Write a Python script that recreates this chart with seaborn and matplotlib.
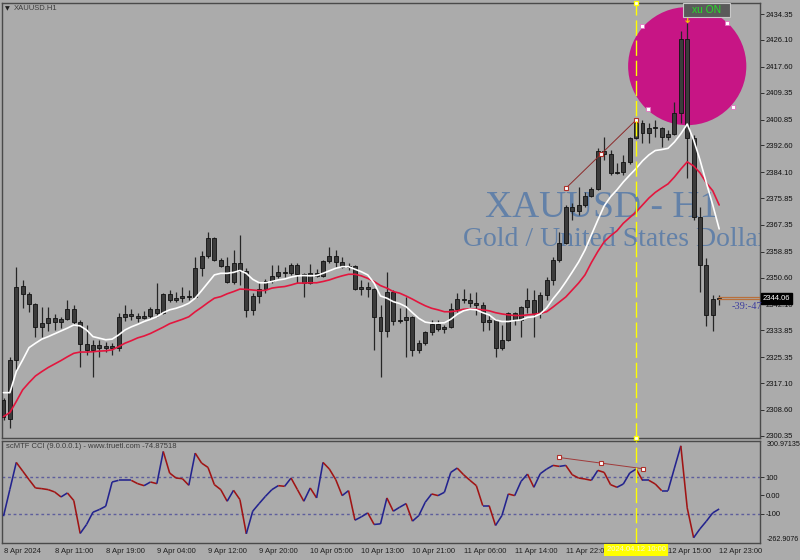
import matplotlib
matplotlib.use("Agg")
import matplotlib.pyplot as plt
import numpy as np
import seaborn as sns
from matplotlib.collections import LineCollection
from matplotlib.patches import Ellipse, Rectangle
from matplotlib.transforms import blended_transform_factory

W, H = 800, 560
BG = "#ababab"

# XAUUSD H1, 8-12 Apr 2024
opens = [2311.8, 2305.8, 2324.5, 2348.0, 2345.5, 2342.3, 2335.0, 2336.2, 2337.8, 2336.6,
         2337.5, 2340.7, 2336.6, 2329.6, 2327.7, 2329.3, 2328.4, 2329.0, 2328.4, 2338.2,
         2339.1, 2338.5, 2337.8, 2338.5, 2340.7, 2339.4, 2345.5, 2343.5, 2344.2, 2344.8,
         2344.5, 2353.7, 2357.5, 2363.2, 2356.3, 2354.3, 2349.3, 2355.3, 2352.8, 2340.4,
         2344.8, 2347.0, 2349.6, 2351.2, 2352.4, 2352.0, 2354.7, 2351.8, 2348.9, 2352.1,
         2351.2, 2355.9, 2357.5, 2355.6, 2354.0, 2354.3, 2347.0, 2347.7, 2347.0, 2338.2,
         2333.7, 2346.1, 2336.9, 2337.2, 2338.2, 2327.7, 2329.9, 2333.5, 2335.9, 2334.3,
         2335.0, 2340.7, 2343.9, 2343.5, 2342.6, 2341.9, 2336.6, 2337.2, 2328.4, 2330.9,
         2339.4, 2337.2, 2341.3, 2343.5, 2339.4, 2345.1, 2349.9, 2356.3, 2361.7, 2373.1,
         2371.8, 2373.7, 2376.6, 2378.8, 2390.9, 2389.9, 2383.9, 2384.3, 2387.4, 2395.0,
         2399.7, 2396.6, 2398.2, 2398.0, 2395.3, 2396.3, 2402.9, 2426.4, 2395.0, 2369.9,
         2354.7, 2338.8, 2343.9]
highs = [2312.4, 2325.4, 2354.0, 2349.9, 2346.1, 2342.6, 2341.3, 2341.3, 2339.1, 2338.2,
         2343.5, 2342.0, 2337.2, 2335.6, 2330.9, 2330.9, 2330.3, 2330.0, 2339.4, 2341.9,
         2340.7, 2339.4, 2340.0, 2341.3, 2348.9, 2345.8, 2346.7, 2346.1, 2347.7, 2346.7,
         2357.2, 2359.1, 2365.1, 2363.6, 2356.9, 2357.2, 2359.4, 2364.2, 2353.7, 2345.8,
         2349.3, 2350.2, 2354.7, 2354.7, 2354.0, 2355.3, 2355.3, 2352.1, 2355.0, 2353.4,
         2356.3, 2360.4, 2359.4, 2357.2, 2355.3, 2354.7, 2349.9, 2349.3, 2347.4, 2341.9,
         2352.4, 2346.7, 2341.0, 2344.5, 2338.6, 2330.9, 2333.8, 2337.2, 2337.2, 2335.6,
         2342.6, 2345.8, 2347.0, 2345.8, 2346.1, 2342.9, 2338.8, 2337.5, 2335.6, 2339.7,
         2339.7, 2341.6, 2347.4, 2346.7, 2346.1, 2350.9, 2357.2, 2365.1, 2373.7, 2374.3,
         2379.4, 2377.8, 2379.4, 2391.8, 2395.3, 2391.2, 2387.0, 2389.6, 2395.3, 2400.7,
         2400.7, 2399.7, 2400.7, 2398.5, 2397.5, 2406.4, 2429.0, 2431.5, 2395.9, 2373.1,
         2356.9, 2345.1, 2345.1]
lows = [2305.5, 2302.9, 2321.3, 2341.0, 2339.7, 2331.8, 2331.8, 2333.7, 2334.0, 2334.7,
        2337.2, 2335.9, 2322.4, 2326.1, 2319.1, 2325.4, 2327.1, 2326.1, 2327.4, 2336.9,
        2337.2, 2336.6, 2337.5, 2337.8, 2338.2, 2339.1, 2342.9, 2342.9, 2342.9, 2343.5,
        2344.2, 2351.2, 2356.9, 2355.9, 2354.0, 2348.9, 2348.6, 2348.3, 2338.2, 2338.8,
        2342.6, 2345.8, 2348.9, 2350.5, 2350.9, 2351.5, 2348.9, 2344.5, 2348.5, 2350.9,
        2350.9, 2355.3, 2354.0, 2353.7, 2353.1, 2346.7, 2345.1, 2344.5, 2327.7, 2319.1,
        2331.8, 2335.6, 2336.2, 2325.4, 2325.8, 2326.7, 2329.3, 2332.4, 2333.7, 2333.1,
        2334.7, 2339.7, 2342.6, 2341.3, 2338.8, 2333.7, 2334.0, 2325.4, 2327.7, 2330.6,
        2335.6, 2331.8, 2339.4, 2331.8, 2337.8, 2343.5, 2348.3, 2355.6, 2361.3, 2369.0,
        2370.5, 2373.1, 2376.3, 2378.5, 2388.0, 2383.2, 2383.5, 2383.2, 2386.7, 2394.7,
        2393.4, 2393.4, 2395.3, 2392.1, 2394.3, 2395.9, 2399.7, 2382.3, 2368.9, 2346.1,
        2335.3, 2333.7, 2341.9]
closes = [2306.4, 2324.5, 2347.7, 2345.5, 2342.3, 2335.0, 2336.2, 2337.8, 2336.6, 2337.5,
          2340.7, 2336.6, 2329.6, 2327.7, 2329.3, 2328.4, 2329.0, 2328.4, 2338.2, 2339.1,
          2338.5, 2337.8, 2338.5, 2340.7, 2339.4, 2345.5, 2343.5, 2344.2, 2344.8, 2344.5,
          2353.7, 2357.5, 2363.2, 2356.3, 2354.3, 2349.3, 2355.3, 2352.8, 2340.4, 2344.8,
          2347.0, 2349.6, 2351.2, 2352.4, 2352.0, 2354.7, 2351.8, 2348.9, 2352.1, 2351.2,
          2355.9, 2357.5, 2355.6, 2354.0, 2354.3, 2347.0, 2347.7, 2347.0, 2338.2, 2333.7,
          2346.1, 2336.9, 2337.2, 2338.2, 2327.7, 2329.9, 2333.5, 2335.9, 2334.3, 2335.0,
          2340.7, 2343.9, 2343.5, 2342.6, 2341.9, 2336.6, 2337.2, 2328.4, 2330.9, 2339.4,
          2337.2, 2341.3, 2343.5, 2339.4, 2345.1, 2349.9, 2356.3, 2361.7, 2373.1, 2371.8,
          2373.7, 2376.6, 2378.8, 2390.9, 2389.9, 2383.9, 2384.3, 2387.4, 2395.0, 2399.7,
          2396.6, 2398.2, 2398.0, 2395.3, 2396.3, 2402.9, 2426.4, 2395.0, 2369.9, 2354.7,
          2338.8, 2343.9, 2344.06]

# white (fast) and red (slow) moving averages as drawn
ma_fast = [2314.1, 2314.1, 2320.8, 2324.5, 2328.4, 2329.8, 2331.1, 2331.9, 2332.8, 2333.7,
           2334.6, 2335.6, 2335.3, 2334.0, 2331.9, 2331.4, 2330.9, 2331.1, 2332.4, 2334.0,
           2335.0, 2335.8, 2336.7, 2337.4, 2338.2, 2339.5, 2340.4, 2340.9, 2341.6, 2342.5,
           2344.1, 2346.5, 2349.0, 2351.5, 2352.0, 2352.0, 2352.3, 2352.9, 2352.0, 2350.1,
           2349.0, 2349.0, 2349.4, 2349.9, 2350.2, 2350.8, 2351.2, 2351.3, 2351.2, 2351.3,
           2352.0, 2352.8, 2353.6, 2354.1, 2354.1, 2353.3, 2352.5, 2351.5, 2348.9, 2344.8,
           2344.1, 2343.0, 2342.4, 2341.4, 2339.5, 2337.7, 2336.5, 2336.2, 2336.2, 2336.3,
           2337.4, 2339.0, 2340.1, 2340.6, 2340.4, 2339.5, 2338.8, 2337.2, 2336.7, 2336.7,
           2337.0, 2337.2, 2338.0, 2338.2, 2339.1, 2341.0, 2343.9, 2346.4, 2349.3, 2352.4,
           2355.6, 2359.4, 2364.2, 2368.9, 2373.4, 2376.3, 2378.5, 2381.0, 2383.2, 2385.3,
           2387.7, 2389.6, 2391.0, 2391.3, 2391.7, 2393.7, 2396.3, 2399.4, 2394.4, 2388.0,
           2380.7, 2373.7, 2366.1]
ma_slow = [2306.5, 2307.8, 2311.3, 2315.0, 2317.3, 2319.4, 2320.8, 2322.1, 2323.2, 2324.3,
           2325.5, 2326.6, 2327.0, 2327.0, 2327.1, 2327.3, 2327.4, 2327.7, 2328.7, 2329.8,
           2330.6, 2331.5, 2332.1, 2332.9, 2333.9, 2334.9, 2336.0, 2336.7, 2337.4, 2338.2,
           2339.8, 2341.2, 2342.7, 2344.1, 2344.6, 2345.5, 2346.2, 2347.0, 2346.9, 2346.7,
           2346.5, 2346.6, 2347.3, 2347.6, 2347.8, 2348.3, 2348.9, 2348.9, 2349.0, 2349.0,
           2349.4, 2349.9, 2350.6, 2351.2, 2351.7, 2351.7, 2351.2, 2350.4, 2349.4, 2348.1,
           2347.3, 2346.2, 2345.7, 2344.8, 2343.8, 2342.7, 2341.7, 2340.9, 2340.4, 2339.8,
           2339.8, 2340.1, 2340.6, 2340.7, 2340.6, 2340.4, 2340.1, 2339.5, 2339.1, 2338.8,
           2338.6, 2338.6, 2338.8, 2339.0, 2339.3, 2339.8, 2341.3, 2342.9, 2344.5, 2346.7,
           2348.9, 2351.5, 2355.4, 2358.9, 2362.0, 2363.9, 2365.5, 2367.9, 2369.7, 2371.5,
           2373.7, 2375.9, 2377.7, 2379.1, 2380.4, 2382.6, 2385.1, 2387.4, 2386.1, 2383.9,
           2380.7, 2378.2, 2373.7]

cci = [-114.7, 33.9, 182.6, 134.9, 87.2, 41.3, 37.6, 32.1, 19.3, -8.3,
       13.8, -28.4, -210.1, -160.6, -92.7, -78.0, -59.6, 74.3, 83.5, 83.5,
       83.5, 65.1, 54.1, 74.3, 65.1, 243.1, 123.9, 96.3, 92.7, 56.0,
       233.9, 178.9, 155.0, 59.6, 32.1, -32.1, 28.4, -22.9, -211.9, -87.2,
       -45.0, -4.6, 32.1, 54.1, 50.5, 96.3, 32.1, -32.1, 41.3, -13.8,
       182.6, 145.9, 87.2, -0.9, 26.6, -136.7, -118.3, -96.3, -160.6, -156.9,
       -13.8, -87.2, -65.1, -45.0, -142.2, -111.0, -37.6, 8.3, -0.9, 17.4,
       127.5, 151.4, 114.7, 83.5, 54.1, -56.0, -56.0, -166.1, -111.0, 8.3,
       -0.9, 78.0, 118.3, 45.0, 120.2, 145.9, 166.1, 160.6, 166.1, 114.7,
       96.3, 90.8, 83.5, 138.5, 127.5, 59.6, 45.0, 63.3, 123.9, 145.9,
       83.5, 83.5, 63.3, 26.6, 26.6, 151.4, 274.3, -68.8, -233.9, -184.4,
       -142.2, -96.3, -74.87518]

price_ticks = [2434.35, 2426.10, 2417.60, 2409.35, 2400.85, 2392.60, 2384.10, 2375.85, 2367.35,
               2358.85, 2350.60, 2342.10, 2333.85, 2325.35, 2317.10, 2308.60, 2300.35]
cci_levels = [100, -100]
cci_ticks = [100, 0, -100]
cci_tick_labels = ["100", "0.00", "-100"]
cci_max, cci_min = 300.97135, -262.9076

# the 12 Apr 07:00 label is hidden under the yellow date box in the chart
time_label_bars = [0, 8, 16, 24, 32, 40, 48, 56, 64, 72, 80, 88, 104, 112]
time_labels = ["8 Apr 2024", "8 Apr 11:00", "8 Apr 19:00", "9 Apr 04:00", "9 Apr 12:00",
               "9 Apr 20:00", "10 Apr 05:00", "10 Apr 13:00", "10 Apr 21:00", "11 Apr 06:00",
               "11 Apr 14:00", "11 Apr 22:0", "12 Apr 15:00", "12 Apr 23:00"]

# chart objects
div_bars = [88, 93.5, 99]
div_prices = [2379.0, 2389.8, 2400.7]
cci_div_bars = [86.9, 93.5, 100.1]
cci_div_values = [210.1, 178.9, 147.7]
vline_bar = 99
vline_label = "2024.04.12 10:00"
circle_center = (107.0, 2417.8)
circle_size = (18.5, 37.5)
circle_handle_bars = [100.0, 113.2, 100.9, 114.1]
circle_handle_prices = [2430.5, 2431.4, 2404.1, 2404.7]
arrow_bar, arrow_price = 107, 2432.6
timer_bar, timer_price, timer_text = 113.9, 2341.4, "-39:-47"


def fig_xy(px, py):
    return px / W, 1 - py / H


sns.set_theme(style="white", rc={
    "figure.facecolor": BG,
    "axes.facecolor": BG,
    "axes.edgecolor": "#4a4a4a",
    "axes.linewidth": 1.0,
    "axes.grid": False,
})
plt.rcParams["font.family"] = ["Liberation Sans", "DejaVu Sans"]

bars = np.arange(len(closes))
o = np.array(opens)
c = np.array(closes)

fig = plt.figure(figsize=(W / 100, H / 100), dpi=100)
ax = fig.add_axes([2 / W, 1 - 438 / H, 758 / W, 435 / H])
cax = fig.add_axes([2 / W, 1 - 543 / H, 758 / W, 102 / H])
xlim = (-0.235, 118.39)

# ---------- main price panel ----------
ax.set_xlim(*xlim)
ax.set_ylim(2299.7, 2437.85)

wm_kw = dict(transform=ax.transAxes, family="Liberation Serif", color="#6381a8",
             va="baseline", ha="left", zorder=1, clip_on=True)
ax.text(0.6372, 0.5087, "XAUUSD - H1", fontsize=27, **wm_kw)
ax.text(0.6086, 0.4421, "Gold / United States Dollar", fontsize=20, **wm_kw)

ax.add_patch(Ellipse(circle_center, circle_size[0], circle_size[1],
                     facecolor="#c71585", edgecolor="none", zorder=2))

body_bottom = np.minimum(o, c)
body_height = np.maximum(np.abs(c - o), 0.35)
ax.vlines(bars, lows, highs, color="#262626", linewidth=0.9, zorder=3)
ax.bar(bars, body_height, bottom=body_bottom, width=0.62, color="#3b3b3b",
       edgecolor="#111111", linewidth=0.6, zorder=3.2)

sns.lineplot(x=bars, y=ma_slow, ax=ax, color="#e3163e", linewidth=1.2, zorder=4)
sns.lineplot(x=bars, y=ma_fast, ax=ax, color="white", linewidth=1.2, zorder=4.1)

# divergence trendline
ax.plot([div_bars[0], div_bars[-1]], [div_prices[0], div_prices[-1]],
        color="#8c2a2a", linewidth=0.7, zorder=5)
ax.plot(div_bars, div_prices, linestyle="none", marker="s", markersize=3,
        markerfacecolor="white", markeredgecolor="#b0302a", markeredgewidth=0.8, zorder=5.1)

# circle handles
ax.plot(circle_handle_bars, circle_handle_prices, linestyle="none", marker="s",
        markersize=2.6, markerfacecolor="white", markeredgecolor="#e070c0",
        markeredgewidth=0.6, zorder=5, clip_on=False)

# current price lines
ax.hlines([closes[-1] + 0.45, closes[-1] - 0.35], bars[-1] - 0.2, xlim[1],
          color="#b8703c", linewidth=0.9, zorder=5)

ax.text(arrow_bar, arrow_price, "\u2193", family="DejaVu Sans", fontweight="bold",
        fontsize=8, color="#f2c200", ha="center", va="center", zorder=7, clip_on=False)

ax.text(timer_bar, timer_price, timer_text, family="Liberation Serif", fontsize=7.5,
        color="#3d3d9e", ha="left", va="center", zorder=9, clip_on=False)

ax.set_xticks([])
ax.yaxis.tick_right()
ax.set_yticks(price_ticks)
ax.set_yticklabels([f"{v:.2f}" for v in price_ticks])
ax.tick_params(axis="y", length=3, width=0.7, color="#303030", labelsize=5.5,
               pad=1, labelcolor="#111111")

blend = blended_transform_factory(ax.transAxes, ax.transData)
ax.text(1.004, closes[-1], f"{closes[-1]:.2f}", transform=blend, fontsize=5.5, color="white",
        ha="left", va="center", zorder=8,
        bbox=dict(boxstyle="square,pad=0.25", facecolor="black", edgecolor="black"))

# ---------- CCI panel ----------
cax.set_xlim(*xlim)
cax.set_ylim(cci_min, cci_max)
for lvl in cci_levels:
    cax.axhline(lvl, color="#5e5e9c", linewidth=1.0, linestyle=(0, (2, 2)), zorder=1)

pts = np.column_stack([bars, cci])
segs = np.stack([pts[:-1], pts[1:]], axis=1)
seg_colors = ["#23238e" if b >= a else "#a01414" for a, b in zip(cci[:-1], cci[1:])]
cax.add_collection(LineCollection(segs, colors=seg_colors, linewidths=1.15, zorder=3))

cax.plot([cci_div_bars[0], cci_div_bars[-1]], [cci_div_values[0], cci_div_values[-1]],
         color="#a03a3a", linewidth=0.7, zorder=4)
cax.plot(cci_div_bars, cci_div_values, linestyle="none", marker="s", markersize=3,
         markerfacecolor="white", markeredgecolor="#b0302a", markeredgewidth=0.8, zorder=4.1)

cax.yaxis.tick_right()
cax.set_yticks(cci_ticks)
cax.set_yticklabels(cci_tick_labels)
cax.tick_params(axis="y", length=3, width=0.7, color="#303030", labelsize=5.5,
                pad=1, labelcolor="#111111")
cblend = blended_transform_factory(cax.transAxes, cax.transData)
cax.text(1.0085, cci_max, f"{cci_max:.5f}", transform=cblend, fontsize=5.1,
         color="#111111", ha="left", va="top")
cax.text(1.0085, cci_min, f"{cci_min:.4f}", transform=cblend, fontsize=5.1,
         color="#111111", ha="left", va="bottom")

cax.set_xticks(time_label_bars)
cax.set_xticklabels(time_labels)
for lbl in cax.get_xticklabels():
    lbl.set_horizontalalignment("left")
cax.tick_params(axis="x", length=2.5, width=0.7, color="#303030", labelsize=5.5,
                pad=1, labelcolor="#202020")

# ---------- marker line across both panels ----------
for a in (ax, cax):
    a.axvline(vline_bar, color="#ffff00", linewidth=1.0, linestyle=(0, (11, 3.5)), zorder=6)
ax.plot([vline_bar, vline_bar], [ax.get_ylim()[1], ax.get_ylim()[0]], linestyle="none",
        marker="s", markersize=3, markerfacecolor="white", markeredgecolor="#ffff00",
        markeredgewidth=0.9, zorder=9, clip_on=False)

xblend = blended_transform_factory(cax.transData, cax.transAxes)
cax.text(vline_bar, -0.066, vline_label, transform=xblend, fontsize=5.5, color="#f4f4e8",
         ha="center", va="center", zorder=10, clip_on=False,
         bbox=dict(boxstyle="square,pad=0.35", facecolor="#ffff00", edgecolor="none"))

# ---------- panel captions ----------
fig.text(*fig_xy(7.3, 9.2), "\u25bc", family="DejaVu Sans", fontsize=4.5,
         color="#1e1e1e", ha="center", va="center")
fig.text(*fig_xy(14, 9), "XAUUSD.H1", fontsize=5.5, color="#3c3c3c", ha="left", va="center")
fig.text(*fig_xy(6, 447), f"scMTF CCI (9.0.0.0.1) - www.truetl.com {cci[-1]:.5f}",
         fontsize=5.5, color="#3c3c3c", ha="left", va="center")

# "xu ON" button above the circle
fig.add_artist(Rectangle(fig_xy(682.7, 17.3), 47.3 / W, 14.6 / H, transform=fig.transFigure,
                         facecolor="#5a5a5a", edgecolor="#c8c8c8", linewidth=0.8, zorder=10))
fig.text(*fig_xy(706.4, 10.2), "xu ON", fontsize=7.4, color="#25e025",
         ha="center", va="center", zorder=11)

fig.savefig("out.png", dpi=100, facecolor=BG)
